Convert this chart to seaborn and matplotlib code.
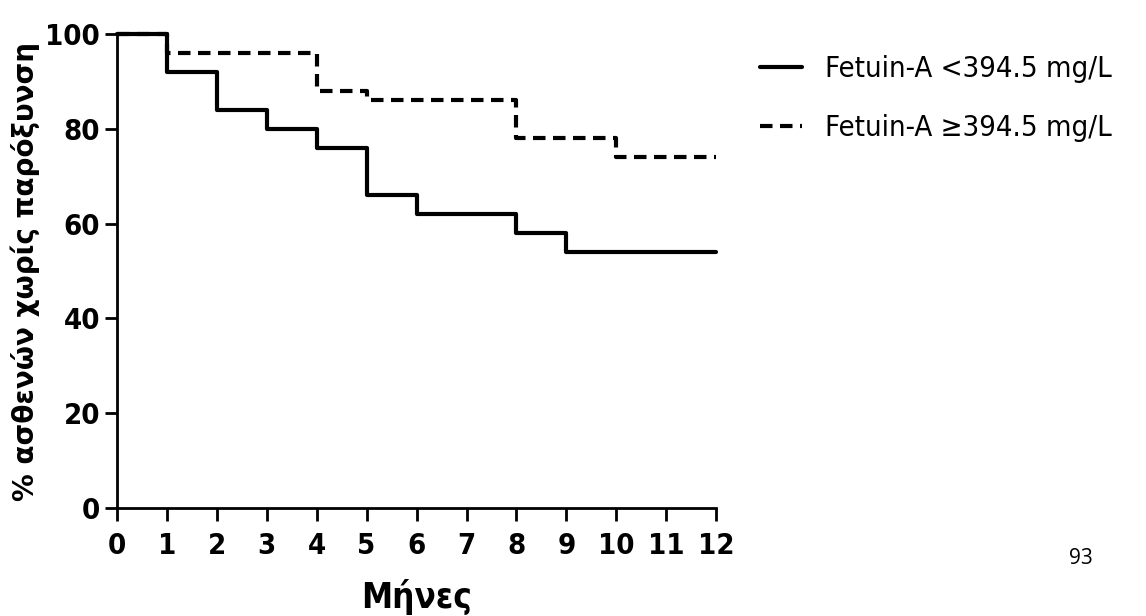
import numpy as np
import pandas as pd
import matplotlib
matplotlib.use("Agg")
import matplotlib.pyplot as plt
import seaborn as sns

# Kaplan-Meier style step data
low_months = [0, 1, 2, 3, 4, 5, 6, 8, 9, 12]
low_pct = [100, 92, 84, 80, 76, 66, 62, 58, 54, 54]
high_months = [0, 1, 4, 5, 8, 10, 12]
high_pct = [100, 96, 88, 86, 78, 74, 74]
groups = ["Fetuin-A <394.5 mg/L", "Fetuin-A \u2265394.5 mg/L"]
xticks = list(range(0, 13))
yticks = [0, 20, 40, 60, 80, 100]

df = pd.concat([
    pd.DataFrame({"month": low_months, "pct": low_pct, "group": groups[0]}),
    pd.DataFrame({"month": high_months, "pct": high_pct, "group": groups[1]}),
])

sns.set_style("ticks")
plt.rcParams["font.family"] = ["DejaVu Sans"]
plt.rcParams["font.stretch"] = "condensed"
plt.rcParams["text.color"] = "black"
plt.rcParams["xtick.color"] = "black"
plt.rcParams["ytick.color"] = "black"
plt.rcParams["axes.labelcolor"] = "black"

fig = plt.figure(figsize=(11.46, 6.16), dpi=100)
ax = fig.add_axes([0.102, 0.175, 0.523, 0.77])

sns.lineplot(data=df, x="month", y="pct", style="group", style_order=groups,
             dashes={groups[0]: "", groups[1]: (3, 1.8)},
             color="black", linewidth=3, drawstyle="steps-post",
             legend=False, ax=ax, clip_on=False)

ax.set_xlim(0, 12)
ax.set_ylim(0, 100)
ax.set_xticks(xticks)
ax.set_yticks(yticks)
ax.set_xticklabels([str(t) for t in xticks], fontsize=21, fontweight="bold")
ax.set_yticklabels([str(t) for t in yticks], fontsize=21, fontweight="bold")
ax.tick_params(axis="both", width=2, length=9, color="black", pad=3)
ax.tick_params(axis="x", pad=8)
sns.despine(ax=ax)
for s in ["left", "bottom"]:
    ax.spines[s].set_linewidth(2)
    ax.spines[s].set_color("black")

ax.set_xlabel("Μήνες", fontsize=25, fontweight="bold", labelpad=14)
ax.set_ylabel("% ασθενών χωρίς παρόξυνση", fontsize=20, fontweight="bold",
              fontstretch="normal")
ax.yaxis.set_label_coords(-0.128, 0.5)

leg = ax.legend(handles=ax.get_lines()[:2], labels=groups, loc="upper left",
                bbox_to_anchor=(0.64, 0.953), bbox_transform=fig.transFigure,
                frameon=False, fontsize=21, handlelength=1.45, handletextpad=0.8,
                labelspacing=1.05)

fig.text(0.943, 0.085, "93", fontsize=15, family=["Open Sans"],
         fontstretch="normal", ha="center")

fig.savefig("out.png", dpi=100)
